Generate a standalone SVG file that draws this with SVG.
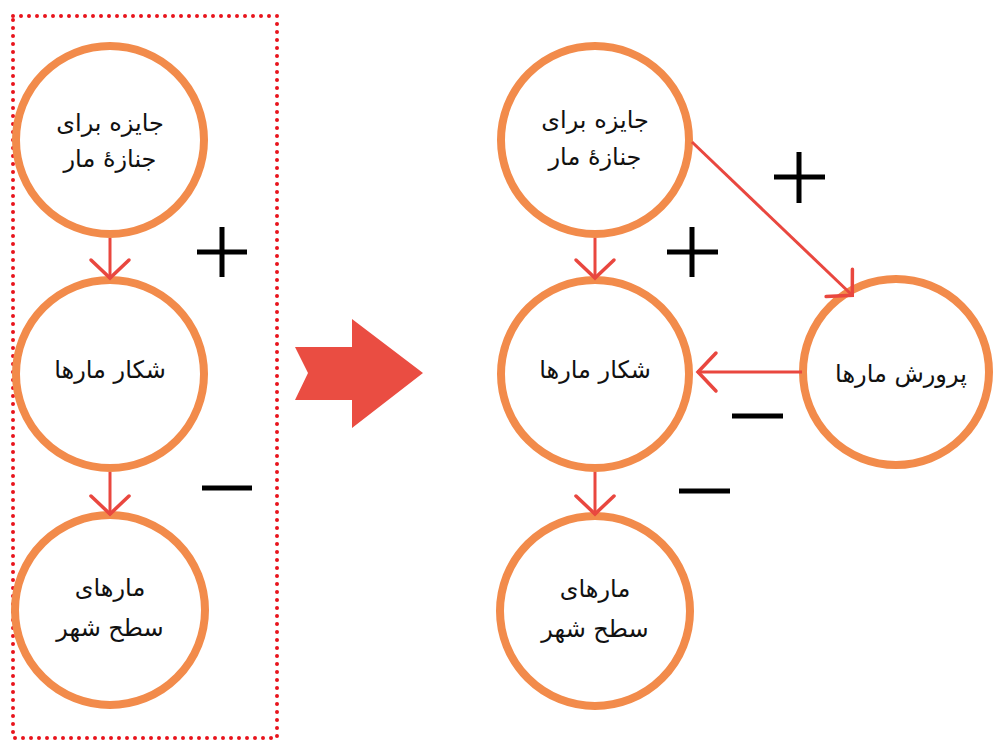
<svg xmlns="http://www.w3.org/2000/svg" width="993" height="740" viewBox="0 0 993 740">
<defs>
<style>
.node{fill:#ffffff;stroke:#F28B4B;stroke-width:8}
.lbl{font-family:"DejaVu Sans",sans-serif;font-size:24px;fill:#111;text-anchor:middle;direction:rtl}
.con{stroke:#E9473F;stroke-width:3;fill:none}
.sign{stroke:#000;stroke-width:5;fill:none}
</style>
<marker id="chev" viewBox="0 0 24 44" refX="22" refY="22" markerWidth="24" markerHeight="44" markerUnits="userSpaceOnUse" orient="auto">
<path d="M3,3 L21,22 L3,41" fill="none" stroke="#E9473F" stroke-width="3.5" stroke-linecap="round"/>
</marker>
</defs>
<rect width="993" height="740" fill="#ffffff"/>
<rect x="13" y="16" width="264" height="722" fill="none" stroke="#E8141C" stroke-width="4" stroke-linecap="round" stroke-dasharray="0 8"/>
<path d="M295,347 L352,347 L352,319 L423,373 L352,428 L352,400 L295,400 L308,373 Z" fill="#EA4D42"/>
<g id="n1"><circle class="node" cx="110" cy="140" r="94"/><text class="lbl" x="110" y="131">جایزه برای</text><text class="lbl" x="110" y="167">جنازهٔ مار</text></g>
<g id="n2"><circle class="node" cx="110" cy="374" r="94"/><text class="lbl" x="110" y="378">شکار مارها</text></g>
<g id="n3"><circle class="node" cx="110" cy="610" r="95"/><text class="lbl" x="110" y="596">مارهای</text><text class="lbl" x="110" y="636">سطح شهر</text></g>
<g id="r1"><circle class="node" cx="595" cy="140" r="94"/><text class="lbl" x="595" y="128">جایزه برای</text><text class="lbl" x="595" y="165">جنازهٔ مار</text></g>
<g id="r2"><circle class="node" cx="595" cy="374" r="94"/><text class="lbl" x="595" y="378">شکار مارها</text></g>
<g id="r3"><circle class="node" cx="595" cy="611" r="95"/><text class="lbl" x="595" y="597">مارهای</text><text class="lbl" x="595" y="637">سطح شهر</text></g>
<g id="r4"><circle class="node" cx="896" cy="372" r="93"/><text class="lbl" x="901" y="382">پرورش مارها</text></g>
<g id="connectors">
<line class="con" x1="110" y1="238" x2="110" y2="279" marker-end="url(#chev)"/>
<line class="con" x1="110" y1="472" x2="110" y2="515" marker-end="url(#chev)"/>
<line class="con" x1="595" y1="238" x2="595" y2="279" marker-end="url(#chev)"/>
<line class="con" x1="595" y1="472" x2="595" y2="515" marker-end="url(#chev)"/>
<line class="con" x1="692" y1="142" x2="853" y2="296" marker-end="url(#chev)"/>
<line class="con" x1="802" y1="372" x2="697" y2="372" marker-end="url(#chev)"/>
</g>
<g id="signs">
<path class="sign" d="M197,252 H247 M222,227 V277"/>
<path class="sign" d="M202,488 H252"/>
<path class="sign" d="M774,177 H825 M799,152 V203"/>
<path class="sign" d="M667,252 H718 M692,227 V277"/>
<path class="sign" d="M732,416 H783"/>
<path class="sign" d="M679,491 H730"/>
</g>
</svg>
